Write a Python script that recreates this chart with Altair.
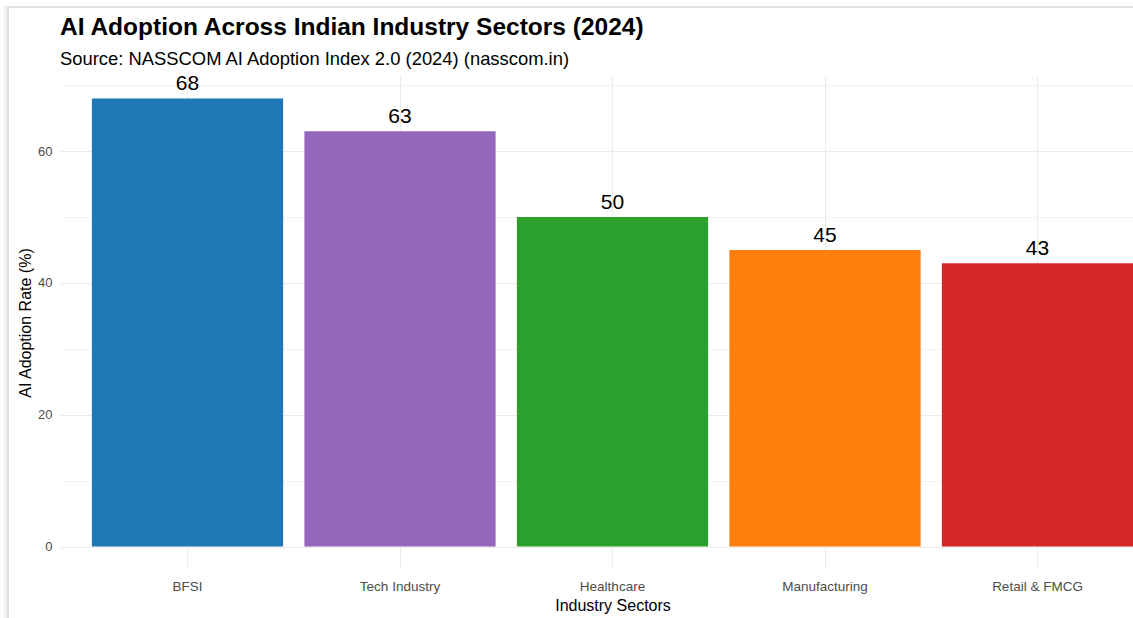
import altair as alt
import pandas as pd

sectors = ["BFSI", "Tech Industry", "Healthcare", "Manufacturing", "Retail & FMCG"]
values = [68, 63, 50, 45, 43]
colors = ["#1F77B4", "#9467BD", "#2CA02C", "#FF7F0E", "#D62728"]
y_ticks = [0, 10, 20, 30, 40, 50, 60, 70]

df = pd.DataFrame({"Sector": sectors, "Value": values})

FONT = "Liberation Sans"
W, H = 1073, 493

x_enc = alt.X(
    "Sector:N",
    sort=sectors,
    scale=alt.Scale(domain=sectors, range=[0, 1105], paddingInner=0.1, paddingOuter=0.15),
    axis=alt.Axis(
        title="Industry Sectors",
        labelAngle=0,
        ticks=False,
        domain=False,
        grid=True,
        gridColor="#EBEBEB",
        gridWidth=1,
        bandPosition=0.5,
        labelColor="#4D4D4D",
        labelFontSize=13.5,
        labelFont=FONT,
        labelPadding=10,
        titleFont=FONT,
        titleFontSize=16,
        titleFontWeight="normal",
        titleColor="black",
        titleX=552.5,
        titleY=41,
        titleAlign="center",
        titleBaseline="alphabetic",
    ),
)

y_enc = alt.Y(
    "Value:Q",
    scale=alt.Scale(domain=[-3.4, 71.4], nice=False, zero=False),
    axis=alt.Axis(
        title="AI Adoption Rate (%)",
        values=y_ticks,
        labelExpr="datum.value % 20 === 0 ? datum.label : ''",
        ticks=False,
        domain=False,
        grid=True,
        gridColor="#EBEBEB",
        gridWidth={"condition": {"test": "datum.value % 20 === 0", "value": 1.1}, "value": 0.6},
        labelColor="#4D4D4D",
        labelFontSize=13,
        labelFont=FONT,
        labelPadding=8,
        titleFont=FONT,
        titleFontSize=16,
        titleFontWeight="normal",
        titleColor="black",
        titleX=-35,
        titleY=H / 2,
        titleAngle=270,
        titleAlign="center",
        titleBaseline="middle",
    ),
)

bars = alt.Chart(df).mark_bar(clip=True).encode(
    x=x_enc,
    y=y_enc,
    y2=alt.datum(0),
    color=alt.Color("Sector:N", scale=alt.Scale(domain=sectors, range=colors), legend=None),
)

labels = alt.Chart(df).mark_text(
    dy=-8, baseline="alphabetic", fontSize=21, font=FONT, color="black"
).encode(
    x=alt.X("Sector:N", sort=sectors),
    y="Value:Q",
    text="Value:Q",
)

border_top = alt.Chart(df).mark_rule(color="#DEDEDE", strokeWidth=1).encode(
    x=alt.value(-52), x2=alt.value(W), y=alt.value(-69)
)
border_left = alt.Chart(df).mark_rule(color="#DEDEDE", strokeWidth=1).encode(
    x=alt.value(-52), y=alt.value(-69), y2=alt.value(H + 49)
)
border_band = alt.Chart(df).mark_rule(color="#F3F3F3", strokeWidth=3).encode(
    x=alt.value(-54), y=alt.value(-71), y2=alt.value(H + 49)
)

chart = alt.layer(border_band, border_top, border_left, bars, labels).properties(
    width=W,
    height=H,
    background="white",
    title=alt.TitleParams(
        text="AI Adoption Across Indian Industry Sectors (2024)",
        subtitle="Source: NASSCOM AI Adoption Index 2.0 (2024) (nasscom.in)",
        anchor="start",
        frame="group",
        font=FONT,
        fontSize=24.5,
        fontWeight="bold",
        color="black",
        subtitleFont=FONT,
        subtitleFontSize=18.4,
        subtitleColor="black",
        subtitlePadding=9,
        offset=12,
        dy=77.5,
    ),
    padding={"left": 60, "top": 76, "right": 0, "bottom": 49},
    autosize=alt.AutoSizeParams(type="none"),
).configure_view(strokeWidth=0, stroke="transparent")

chart.save("out.html", embed_options={"renderer": "svg", "actions": False})
